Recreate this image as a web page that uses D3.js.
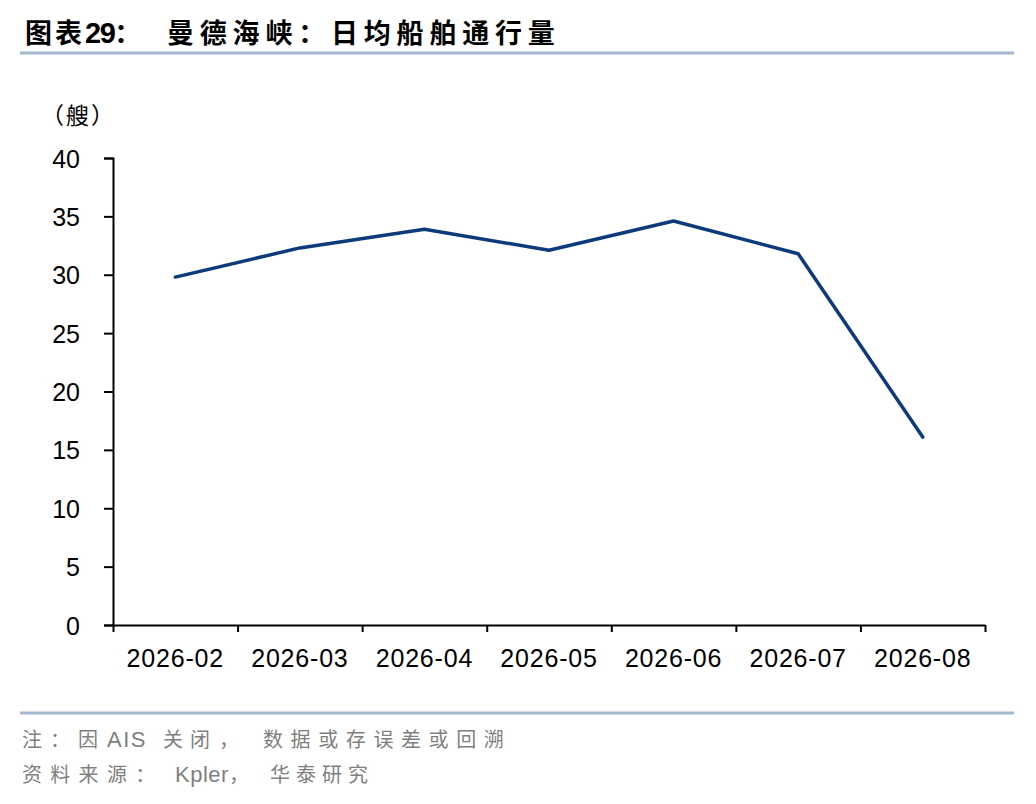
<!DOCTYPE html>
<html>
<head>
<meta charset="utf-8">
<script src="https://cdn.jsdelivr.net/npm/d3@7"></script>
<style>
  body { margin: 0; background: #fff; }
  svg { display: block; }
  .axis path, .axis line { stroke: #000; stroke-width: 2px; }
  .axis text { font-family: "Liberation Sans", Arial, sans-serif; font-size: 25px; fill: #000; }
  .note { font-family: "Noto Sans CJK SC", sans-serif; font-size: 20px; fill: #7f7f7f; }
  .latin { font-family: "Liberation Sans", Arial, sans-serif; font-size: 22px; }
</style>
</head>
<body>
<div id="chart"></div>
<script>
// 曼德海峡 日均船舶通行量 (艘)
var months = ["2026-02", "2026-03", "2026-04", "2026-05", "2026-06", "2026-07", "2026-08"];
var ships = [29.8, 32.3, 33.9, 32.1, 34.6, 31.8, 16.1];
var yTicks = [0, 5, 10, 15, 20, 25, 30, 35, 40];

var titleText = "曼德海峡：日均船舶通行量";
var unitText = "（艘）";

var W = 1036, H = 804;
var plot = {left: 113, right: 985, top: 158, bottom: 625};

var data = months.map(function(m, i) { return {month: m, value: ships[i]}; });

var svg = d3.select("#chart").append("svg")
    .attr("width", W)
    .attr("height", H);

// title + rules
var title = svg.append("text")
    .attr("x", 25)
    .attr("y", 43)
    .style("font-family", "'Noto Sans CJK SC', sans-serif")
    .style("font-weight", "bold")
    .style("font-size", "27px")
    .style("letter-spacing", "3px")
    .attr("fill", "#000");
title.append("tspan").text("图表");
title.append("tspan")
    .style("font-family", "'Liberation Sans', Arial, sans-serif")
    .style("font-size", "29px")
    .style("letter-spacing", "-1.5px")
    .text("29");
title.append("tspan").text("：");
svg.append("text")
    .attr("x", 167)
    .attr("y", 43)
    .style("font-family", "'Noto Sans CJK SC', sans-serif")
    .style("font-weight", "bold")
    .style("font-size", "27px")
    .style("letter-spacing", "5.8px")
    .attr("fill", "#000")
    .text(titleText);

svg.append("line")
    .attr("x1", 20).attr("x2", 1014)
    .attr("y1", 53).attr("y2", 53)
    .attr("stroke", "#a3b7ce")
    .attr("stroke-width", 3);
svg.append("line")
    .attr("x1", 20).attr("x2", 1014)
    .attr("y1", 713).attr("y2", 713)
    .attr("stroke", "#a3b7ce")
    .attr("stroke-width", 3);

// scales
var x = d3.scaleBand()
    .domain(months)
    .range([plot.left, plot.right]);

var xEdge = d3.scaleLinear()
    .domain([0, months.length])
    .range([plot.left, plot.right]);

var y = d3.scaleLinear()
    .domain([0, 40])
    .range([plot.bottom, plot.top]);

// y axis
svg.append("g")
    .attr("class", "axis")
    .attr("transform", "translate(" + plot.left + ",0)")
    .call(d3.axisLeft(y).tickValues(yTicks).tickSizeOuter(0).tickSize(9).tickPadding(24))
    .selectAll("text").attr("dy", "0.36em");

svg.append("text")
    .attr("x", 41)
    .attr("y", 124)
    .style("font-family", "'Noto Sans CJK SC', sans-serif")
    .style("font-size", "23px")
    .style("letter-spacing", "2px")
    .attr("fill", "#000")
    .text(unitText);

// x axis: ticks on category boundaries
svg.append("g")
    .attr("class", "axis")
    .attr("transform", "translate(0," + plot.bottom + ")")
    .call(d3.axisBottom(xEdge).tickValues(d3.range(months.length + 1)).tickFormat("").tickSize(7).tickSizeOuter(0));

// x axis labels at band centres
var xLab = svg.append("g")
    .attr("class", "axis")
    .attr("transform", "translate(0," + plot.bottom + ")")
    .call(d3.axisBottom(x).tickSize(0).tickPadding(24));
xLab.select(".domain").remove();
xLab.selectAll("text").style("letter-spacing", "0.8px");

// line
var valueline = d3.line()
    .x(function(d) { return x(d.month) + x.bandwidth() / 2; })
    .y(function(d) { return y(d.value); });

svg.append("path")
    .datum(data)
    .attr("d", valueline)
    .attr("fill", "none")
    .attr("stroke", "#0c3a7b")
    .attr("stroke-width", 3.5)
    .attr("stroke-linejoin", "round")
    .attr("stroke-linecap", "round");

// notes
var note = svg.append("text").attr("class", "note").attr("y", 747);
note.append("tspan").attr("x", 22).style("letter-spacing", "8px").text("注：因");
note.append("tspan").attr("x", 107).attr("class", "latin").style("letter-spacing", "1.5px").text("AIS");
note.append("tspan").attr("x", 163).style("letter-spacing", "7px").text("关闭");
note.append("tspan").attr("x", 219).text("，");
note.append("tspan").attr("x", 263).style("letter-spacing", "7.6px").text("数据或存误差或回溯");

var src = svg.append("text").attr("class", "note").attr("y", 782);
src.append("tspan").attr("x", 22).style("letter-spacing", "8.3px").text("资料来源：");
src.append("tspan").attr("x", 175).attr("class", "latin").style("letter-spacing", "0.5px").text("Kpler");
src.append("tspan").attr("x", 229).text("，");
src.append("tspan").attr("x", 270).style("letter-spacing", "6px").text("华泰研究");
</script>
</body>
</html>
